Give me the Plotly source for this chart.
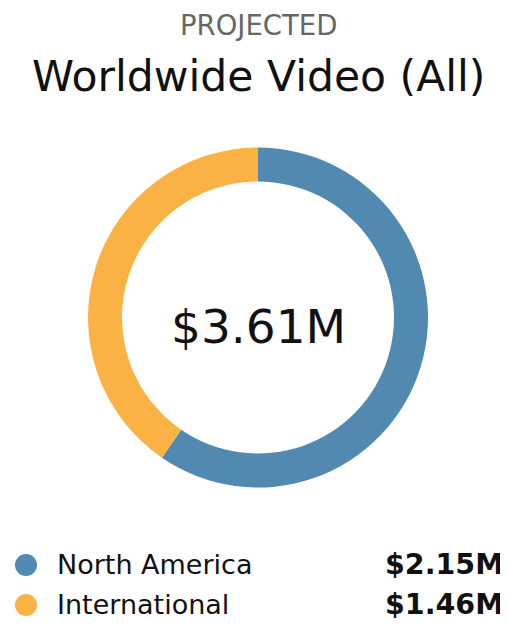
import plotly.graph_objects as go

regions = ["North America", "International"]
revenue = [2.15, 1.46]
value_labels = ["$2.15M", "$1.46M"]
total_label = "$3.61M"
colors = ["#5289b0", "#fbb244"]

FONT = "DejaVu Sans"

fig = go.Figure()

fig.add_trace(go.Pie(
    labels=regions,
    values=revenue,
    hole=0.8,
    sort=False,
    direction="clockwise",
    rotation=0,
    marker=dict(colors=colors, line=dict(width=0)),
    textinfo="none",
    hoverinfo="label+value",
    domain=dict(x=[0.16, 0.84], y=[0.2266, 0.775]),
    showlegend=False,
))

# legend dots on a hidden axis
fig.add_trace(go.Scatter(
    x=[0] * len(regions),
    y=regions,
    mode="markers",
    marker=dict(size=22, color=colors),
    hoverinfo="skip",
    showlegend=False,
))

annotations = [
    dict(text="PROJECTED", x=0.5, y=0.972, xref="paper", yref="paper",
         yanchor="middle", showarrow=False,
         font=dict(family=FONT, size=27.5, color="#666666")),
    dict(text="Worldwide Video (All)", x=0.5, y=0.890, xref="paper", yref="paper",
         yanchor="middle", showarrow=False,
         font=dict(family=FONT, size=42.5, color="#111111")),
    dict(text=total_label, x=0.5, y=0.487, xref="paper", yref="paper",
         yanchor="middle", showarrow=False,
         font=dict(family=FONT, size=47, color="#111111")),
]
for name, val in zip(regions, value_labels):
    annotations.append(dict(text=name, x=0.094, y=name, xref="paper", yref="y",
                            xanchor="left", yanchor="middle", showarrow=False,
                            font=dict(family=FONT, size=27, color="#111111")))
    annotations.append(dict(text="<b>" + val + "</b>", x=0.996, y=name, xref="paper",
                            yref="y", xanchor="right", yanchor="middle", showarrow=False,
                            font=dict(family=FONT, size=28.5, color="#111111")))

fig.update_layout(
    width=500,
    height=620,
    margin=dict(l=0, r=0, t=0, b=0),
    paper_bgcolor="white",
    plot_bgcolor="white",
    font=dict(family=FONT),
    xaxis=dict(range=[-18, 482], domain=[0, 1], visible=False, fixedrange=True),
    yaxis=dict(type="category", range=[1.5, -0.5], domain=[0.00484, 0.1339],
               visible=False, fixedrange=True),
    annotations=annotations,
)

fig.write_html("out.html")
